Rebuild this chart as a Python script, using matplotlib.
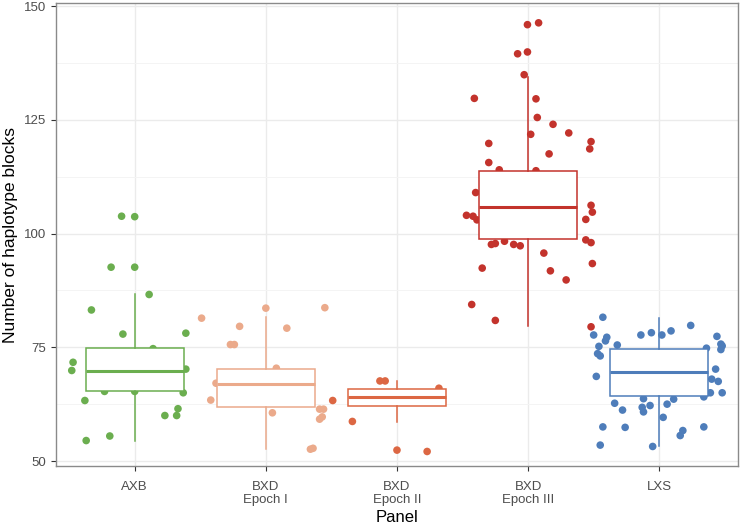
import matplotlib.pyplot as plt
from matplotlib.ticker import MultipleLocator

plt.rcParams['font.family'] = ['Liberation Sans', 'DejaVu Sans']

panels = ["AXB", "BXD\nEpoch I", "BXD\nEpoch II", "BXD\nEpoch III", "LXS"]
colors = ["#6BAE4F", "#EBAA8B", "#DC6743", "#C3332C", "#4E7DBA"]

# box stats
q1 = [65.4, 61.8, 62.2, 98.7, 64.3]
med = [69.8, 67.0, 64.0, 105.8, 69.6]
q3 = [74.8, 70.2, 65.9, 113.7, 74.6]
whislo = [54.5, 52.6, 58.6, 79.7, 53.4]
whishi = [86.7, 81.6, 67.5, 134.3, 81.5]

# jittered points: value and horizontal offset (category units)
axb_y = [103.8, 103.7, 92.6, 92.6, 86.6, 83.2, 77.9, 78.1, 74.7, 71.7, 69.9,
         70.2, 65.3, 65.3, 65.0, 63.3, 61.5, 60.0, 60.0, 55.5, 54.5]
axb_dx = [-0.10, 0.0, -0.18, 0.0, 0.11, -0.33, -0.09, 0.39, 0.14, -0.47, -0.48,
          0.39, -0.23, 0.0, 0.37, -0.38, 0.33, 0.23, 0.32, -0.19, -0.37]

bxd1_y = [81.4, 79.6, 75.6, 75.6, 67.1, 63.4, 83.6, 83.7, 79.2, 70.4, 60.6,
          61.4, 61.4, 59.2, 59.7, 52.6, 52.8]
bxd1_dx = [-0.49, -0.20, -0.27, -0.24, -0.38, -0.42, 0.0, 0.45, 0.16, 0.08, 0.05,
           0.41, 0.44, 0.41, 0.43, 0.34, 0.36]

bxd2_y = [67.6, 67.6, 66.0, 63.3, 58.7, 52.4, 52.1]
bxd2_dx = [-0.13, -0.09, 0.32, -0.49, -0.34, 0.0, 0.23]

bxd3_y = [145.9, 146.3, 139.5, 139.9, 134.9, 129.7, 129.6, 125.5, 124.0, 121.8,
          122.1, 120.2, 118.6, 119.8, 117.5, 115.6, 114.0, 113.8, 109.0, 106.2,
          104.7, 104.0, 103.8, 103.0, 103.1, 98.6, 98.0, 97.6, 97.8, 98.3, 97.6,
          97.3, 92.4, 95.7, 91.8, 89.8, 93.4, 84.4, 80.9, 79.5]
bxd3_dx = [-0.005, 0.08, -0.08, -0.005, -0.03, -0.41, 0.06, 0.07, 0.19, 0.02,
           0.31, 0.48, 0.47, -0.30, 0.16, -0.30, -0.22, 0.06, -0.40, 0.48,
           0.49, -0.47, -0.42, -0.39, 0.44, 0.44, 0.48, -0.28, -0.25, -0.18, -0.11,
           -0.06, -0.35, 0.12, 0.17, 0.29, 0.49, -0.43, -0.25, 0.48]

lxs_y = [81.6, 79.8, 77.7, 76.4, 77.2, 75.5, 75.2, 73.6, 73.1, 77.7, 78.2, 77.7,
         78.6, 77.4, 75.7, 75.3, 74.5, 74.8, 68.6, 70.2, 68.0, 67.5, 65.0, 65.0,
         64.1, 63.7, 62.7, 63.6, 62.5, 62.2, 61.2, 61.8, 60.8, 59.6, 57.5, 57.4,
         57.5, 56.7, 55.6, 53.5, 53.2]
lxs_dx = [-0.43, 0.24, -0.50, -0.41, -0.40, -0.32, -0.46, -0.47, -0.45, -0.14,
          -0.06, 0.02, 0.09, 0.44, 0.47, 0.48, 0.47, 0.36, -0.48, 0.43, 0.40, 0.45,
          0.39, 0.48, 0.34, -0.12, -0.34, 0.11, 0.06, -0.07, -0.28, -0.13, -0.12,
          0.03, -0.43, -0.26, 0.34, 0.18, 0.16, -0.45, -0.05]

points = [(axb_y, axb_dx), (bxd1_y, bxd1_dx), (bxd2_y, bxd2_dx),
          (bxd3_y, bxd3_dx), (lxs_y, lxs_dx)]

fig = plt.figure(figsize=(7.42, 5.26), dpi=100)
ax = fig.add_axes([0.0755, 0.114, 0.919, 0.8803])

# grid like theme_bw
ax.yaxis.set_major_locator(MultipleLocator(25))
ax.yaxis.set_minor_locator(MultipleLocator(12.5))
ax.grid(which="major", color="#EBEBEB", linewidth=1.0, zorder=0)
ax.grid(which="minor", axis="y", color="#F4F4F4", linewidth=0.7, zorder=0)
ax.set_axisbelow(True)

for i, (ys, dxs) in enumerate(points):
    xs = [i + 1 + d for d in dxs]
    ax.scatter(xs, ys, s=30, color=colors[i], edgecolors="none", zorder=2)

stats = []
for i in range(5):
    stats.append(dict(med=med[i], q1=q1[i], q3=q3[i], whislo=whislo[i],
                      whishi=whishi[i], fliers=[]))
bp = ax.bxp(stats, positions=range(1, 6), widths=0.75, patch_artist=True,
            showcaps=False, zorder=3)
for i in range(5):
    c = colors[i]
    bp["boxes"][i].set(facecolor="white", edgecolor=c, linewidth=1.1, zorder=3)
    bp["medians"][i].set(color=c, linewidth=2.2, zorder=4)
    bp["whiskers"][2 * i].set(color=c, linewidth=1.1)
    bp["whiskers"][2 * i + 1].set(color=c, linewidth=1.1)

ax.set_xlim(0.4, 5.6)
ax.set_ylim(48.9, 150.66)
ax.set_xticks(range(1, 6))
ax.set_xticklabels(panels, linespacing=1.05)
ax.tick_params(axis="both", which="major", length=3.5, color="#333333",
               labelcolor="#4D4D4D", labelsize=9.5)
ax.tick_params(axis="x", pad=7.5)
ax.tick_params(axis="y", which="minor", length=0)
for s in ax.spines.values():
    s.set_color("#8A8A8A")
    s.set_linewidth(1.0)

ax.set_xlabel("Panel", fontsize=12, labelpad=3)
ax.set_ylabel("Number of haplotype blocks", fontsize=12.5, labelpad=4)

fig.savefig("out.png", dpi=100)
